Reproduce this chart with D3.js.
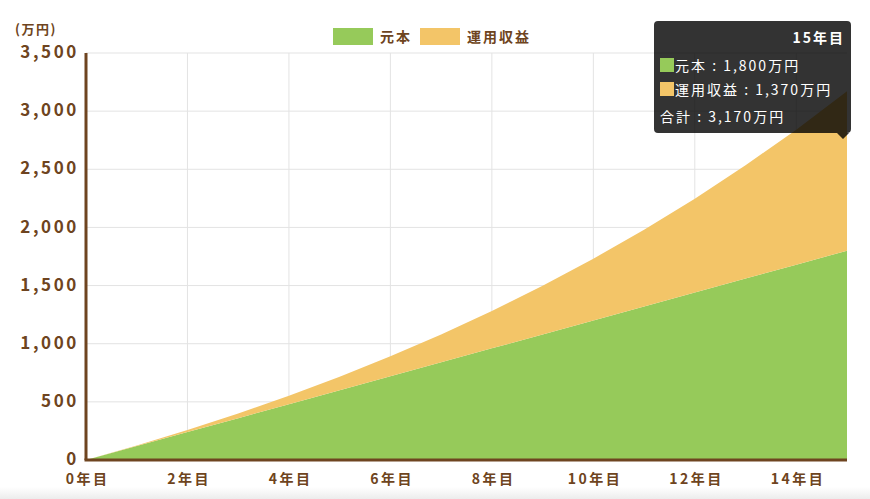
<!DOCTYPE html>
<html>
<head>
<meta charset="utf-8">
<script src="https://cdn.jsdelivr.net/npm/d3@7"></script>
<style>
  body { margin: 0; background: #fff; }
  svg text { font-family: "Noto Sans CJK JP", "Noto Sans", sans-serif; }
</style>
</head>
<body>
<div id="chart"></div>
<script>
const svgWidth = 870;
const svgHeight = 499;

// data per year (万円)
const years = [0, 1, 2, 3, 4, 5, 6, 7, 8, 9, 10, 11, 12, 13, 14, 15];
const principal = [0, 120, 240, 360, 480, 600, 720, 840, 960, 1080, 1200, 1320, 1440, 1560, 1680, 1800];
const gains = [0, 4, 17, 39, 72, 116, 172, 240, 322, 419, 531, 660, 807, 974, 1161, 1370];
const seriesNames = ["元本", "運用収益"];
const seriesColors = ["#96ca5a", "#f3c568"];
const yTicks = [0, 500, 1000, 1500, 2000, 2500, 3000, 3500];
const xTicks = [0, 2, 4, 6, 8, 10, 12, 14];
const tipYear = 15;

const brown = "#6e4420";
const margin = { top: 53, right: 23, bottom: 40, left: 86 };
const width = svgWidth - margin.left - margin.right;
const height = 460 - margin.top;

const svg = d3.select("#chart")
  .append("svg")
  .attr("width", svgWidth)
  .attr("height", svgHeight);

// bottom shade strip
const defs = svg.append("defs");
const grad = defs.append("linearGradient")
  .attr("id", "shade").attr("x1", 0).attr("y1", 0).attr("x2", 0).attr("y2", 1);
grad.append("stop").attr("offset", "0%").attr("stop-color", "#ffffff");
grad.append("stop").attr("offset", "100%").attr("stop-color", "#ececec");
svg.append("rect")
  .attr("x", 0).attr("y", 487).attr("width", svgWidth).attr("height", 12)
  .attr("fill", "url(#shade)");

const chartGroup = svg.append("g")
  .attr("transform", `translate(${margin.left}, ${margin.top})`);

const x = d3.scaleLinear().domain([0, 15]).range([0, 761]);
const y = d3.scaleLinear().domain([0, 3500]).range([height, 0]);

// grid
chartGroup.append("g")
  .selectAll("line.h")
  .data(yTicks)
  .enter()
  .append("line")
  .attr("x1", 0).attr("x2", x(15))
  .attr("y1", d => y(d)).attr("y2", d => y(d))
  .attr("stroke", "#e3e3e3").attr("stroke-width", 1);

chartGroup.append("g")
  .selectAll("line.v")
  .data(xTicks.filter(d => d > 0))
  .enter()
  .append("line")
  .attr("x1", d => x(d)).attr("x2", d => x(d))
  .attr("y1", 0).attr("y2", height)
  .attr("stroke", "#e3e3e3").attr("stroke-width", 1);

// stacked areas
const rows = years.map((yr, i) => ({ year: yr, p: principal[i], g: gains[i] }));
const stacked = d3.stack().keys(["p", "g"])(rows);

const area = d3.area()
  .x(d => x(d.data.year))
  .y0(d => y(d[0]))
  .y1(d => y(d[1]));

chartGroup.selectAll("path.area")
  .data(stacked)
  .enter()
  .append("path")
  .attr("d", area)
  .attr("fill", (d, i) => seriesColors[i]);

// axes
const leftAxis = d3.axisLeft(y).tickValues(yTicks).tickSize(0).tickPadding(7)
  .tickFormat(d3.format(","));
const bottomAxis = d3.axisBottom(x).tickValues(xTicks).tickSize(0).tickPadding(10)
  .tickFormat(d => d + "年目");

const yAxis = chartGroup.append("g").call(leftAxis);
yAxis.select(".domain").remove();
yAxis.selectAll("text")
  .attr("fill", brown)
  .attr("font-size", 17)
  .attr("font-weight", "bold")
  .attr("letter-spacing", 2.6)
  .attr("dy", "0.27em");

const xAxis = chartGroup.append("g")
  .attr("transform", `translate(0, ${height})`)
  .call(bottomAxis);
xAxis.select(".domain").remove();
xAxis.selectAll("text")
  .attr("fill", brown)
  .attr("font-size", 14)
  .attr("font-weight", "bold")
  .attr("letter-spacing", 2.5)
  .attr("dx", 1.2)
  .attr("dy", "1em");

// axis lines
chartGroup.append("line")
  .attr("x1", 0).attr("x2", 0).attr("y1", 0).attr("y2", height)
  .attr("stroke", brown).attr("stroke-width", 3);
chartGroup.append("line")
  .attr("x1", -1.5).attr("x2", x(15)).attr("y1", height).attr("y2", height)
  .attr("stroke", brown).attr("stroke-width", 3);

// unit label
svg.append("text")
  .attr("x", 15).attr("y", 34)
  .attr("fill", brown)
  .attr("font-size", 13)
  .attr("font-weight", "bold")
  .attr("letter-spacing", 1.5)
  .text("(万円)");

// legend
const legend = svg.append("g").attr("transform", "translate(333, 28)");
const legendX = [0, 87];
seriesNames.forEach((name, i) => {
  legend.append("rect")
    .attr("x", legendX[i]).attr("y", 0)
    .attr("width", 40).attr("height", 17)
    .attr("fill", seriesColors[i]);
  legend.append("text")
    .attr("x", legendX[i] + 47).attr("y", 14)
    .attr("fill", brown)
    .attr("font-size", 14)
    .attr("font-weight", "bold")
    .attr("letter-spacing", 2)
    .text(name);
});

// tooltip
const ti = years.indexOf(tipYear);
const total = principal[ti] + gains[ti];
const tipX = margin.left + x(tipYear) - 4;
const fmt = d3.format(",");
const tip = svg.append("g");
const bx = 654, by = 21, bw = 197, bh = 112;
tip.append("path")
  .attr("d", `M${bx + 4},${by} H${bx + bw - 4} Q${bx + bw},${by} ${bx + bw},${by + 4} V${by + bh - 4} Q${bx + bw},${by + bh} ${bx + bw - 4},${by + bh} H${tipX + 6} L${tipX},${by + bh + 6} L${tipX - 6},${by + bh} H${bx + 4} Q${bx},${by + bh} ${bx},${by + bh - 4} V${by + 4} Q${bx},${by} ${bx + 4},${by} Z`)
  .attr("fill", "rgba(0,0,0,0.8)");

tip.append("text")
  .attr("x", bx + bw - 6).attr("y", by + 22)
  .attr("text-anchor", "end")
  .attr("fill", "#fff")
  .attr("font-size", 14)
  .attr("font-weight", "bold")
  .attr("letter-spacing", 2)
  .text(tipYear + "年目");

const tipRows = [
  { color: seriesColors[0], text: seriesNames[0] + " : " + fmt(principal[ti]) + "万円" },
  { color: seriesColors[1], text: seriesNames[1] + " : " + fmt(gains[ti]) + "万円" }
];
tipRows.forEach((r, i) => {
  const ry = by + 37 + i * 24;
  tip.append("rect")
    .attr("x", bx + 6).attr("y", ry)
    .attr("width", 14).attr("height", 14)
    .attr("fill", r.color);
  tip.append("text")
    .attr("x", bx + 21).attr("y", ry + 12.5)
    .attr("fill", "#fff")
    .attr("font-size", 14)
    .attr("letter-spacing", 2)
    .text(r.text);
});
tip.append("text")
  .attr("x", bx + 6).attr("y", by + 101)
  .attr("fill", "#fff")
  .attr("font-size", 14)
  .attr("letter-spacing", 2)
  .text("合計 : " + fmt(total) + "万円");
</script>
</body>
</html>
